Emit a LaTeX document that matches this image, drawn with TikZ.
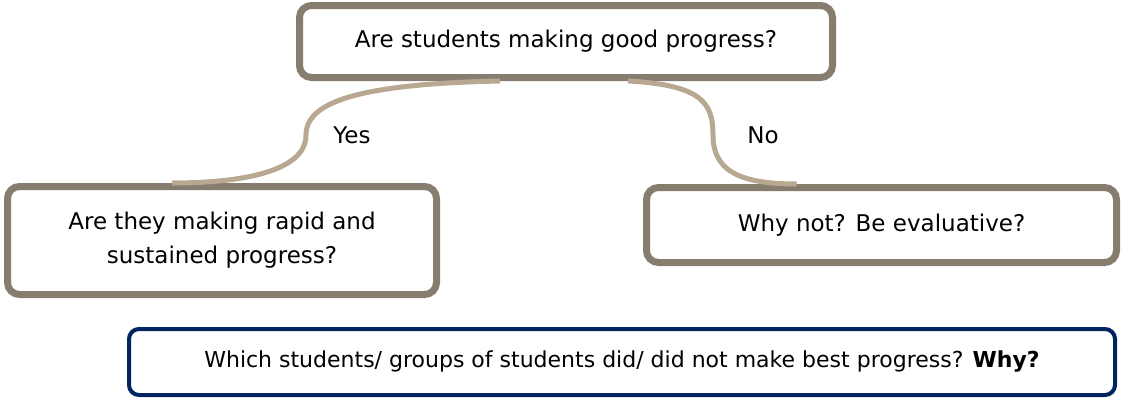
\documentclass[tikz,border=0pt]{standalone}
\usepackage{fontspec}
\setmainfont{DejaVu Sans}
\usetikzlibrary{calc}
\definecolor{boxc}{RGB}{135,125,110}
\definecolor{connc}{RGB}{184,168,145}
\definecolor{navyc}{RGB}{0,36,96}
\begin{document}
\begin{tikzpicture}[x=1pt,y=-1pt,
  box/.style={draw=boxc, line width=7pt, rounded corners=12pt, fill=white,
    align=center, inner sep=0pt, font=\fontsize{23}{34}\selectfont},
  navybox/.style={box, draw=navyc, line width=4pt, rounded corners=10pt,
    font=\fontsize{22}{30}\selectfont},
  conn/.style={draw=connc, line width=5pt},
  lab/.style={font=\fontsize{23}{27}\selectfont, inner sep=0pt}]
\useasboundingbox (0,0) rectangle (1126,399);
\node[box, minimum width=533pt, minimum height=72pt] (top) at (566,41.5) {Are students making good progress?};
\node[box, minimum width=429pt, minimum height=108pt] (left) at (222,240.5) {Are they making rapid and\\sustained progress?};
\node[box, minimum width=470pt, minimum height=75pt] (right) at (881.5,225) {Why not? Be evaluative?};
\node[navybox, minimum width=986pt, minimum height=66pt] (bottom) at (622,362) {Which students/ groups of students did/ did not make best progress? \textbf{Why?}};
\coordinate (lmid) at (306,135);
\coordinate (rmid) at (713,135);
\draw[conn] ($(top.south)+(-66,0)$) .. controls +(-145,3) and +(0,-32) .. (lmid)
  .. controls +(0,37) and +(68,0) .. ($(left.north west)+(168,0)$);
\draw[conn] ($(top.south)+(62,0)$) .. controls +(74,4) and +(0,-32) .. (rmid)
  .. controls +(0,34) and +(-60,0) .. ($(right.north west)+(153.5,0)$);
\node[lab] (yes) at (352,135) {Yes};
\node[lab] (no) at (763,135) {No};
\end{tikzpicture}
\end{document}
